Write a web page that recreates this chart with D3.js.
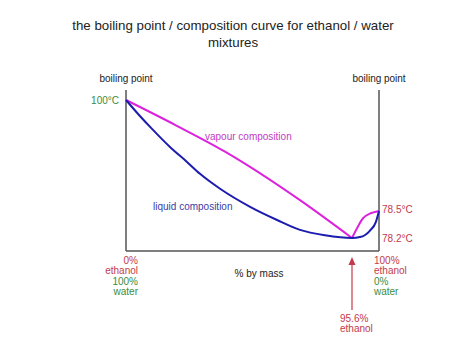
<!DOCTYPE html>
<html>
<head>
<meta charset="utf-8">
<script src="https://cdn.jsdelivr.net/npm/d3@7"></script>
<style>
  body { margin: 0; background: #fff; }
  svg { display: block; font-family: "Liberation Sans", Arial, sans-serif; }
</style>
</head>
<body>
<div id="chart"></div>
<script>
// % ethanol by mass and boiling point (°C) (schematic, not to scale)
const vapourPct  = [0, 20.7, 41.5, 73.6, 95.6, 96.6, 97.4, 98.5, 100];
const vapourTemp = [100, 95.2, 90.1, 80.6, 78.2, 78.33, 78.42, 78.47, 78.5];
const liquidPct  = [0, 5.5, 11.0, 18.6, 25.8, 31.3, 39.8, 52.5, 63.9, 73.6, 84.2, 95.6, 96.9, 98.5, 99.5, 100];
const liquidTemp = [100, 97.1, 94.4, 90.9, 88.0, 85.7, 82.8, 79.3, 78.4, 78.29, 78.23, 78.2, 78.21, 78.28, 78.38, 78.5];
const azeotropePct = 95.6;
const tempTicks = [100, 78.5, 78.2];
const tempLabels = ["100°C", "78.5°C", "78.2°C"];
const endPcts = [0, 100];
const endLabels = [["0%", "ethanol", "100%", "water"], ["100%", "ethanol", "0%", "water"]];

const width = 474, height = 355;
const frameTop = 90, frameBottom = 251;

const red = "#c43a4c", green = "#3c8c3c";

const svg = d3.select("#chart").append("svg")
  .attr("width", width)
  .attr("height", height);

// piecewise scales: the diagram stretches the region near the azeotrope
const x = d3.scaleLinear()
  .domain([0, azeotropePct, 100])
  .range([126, 352, 379]);

const y = d3.scaleLinear()
  .domain([78.2, 78.5, 100])
  .range([238, 211, 100]);

// title
svg.append("text")
  .attr("x", 233).attr("y", 30)
  .attr("text-anchor", "middle")
  .attr("font-size", 13.3).attr("fill", "#222")
  .text("the boiling point / composition curve for ethanol / water");
svg.append("text")
  .attr("x", 233).attr("y", 47)
  .attr("text-anchor", "middle")
  .attr("font-size", 13.3).attr("fill", "#222")
  .text("mixtures");

// frame
const axisColor = "#555";
svg.append("line")
  .attr("x1", x(0)).attr("x2", x(0)).attr("y1", frameTop).attr("y2", frameBottom)
  .attr("stroke", axisColor).attr("stroke-width", 1.5);
svg.append("line")
  .attr("x1", x(100)).attr("x2", x(100)).attr("y1", frameTop).attr("y2", frameBottom)
  .attr("stroke", axisColor).attr("stroke-width", 1.5);
svg.append("line")
  .attr("x1", x(0)).attr("x2", x(100)).attr("y1", frameBottom).attr("y2", frameBottom)
  .attr("stroke", axisColor).attr("stroke-width", 1.5);

// axis titles
svg.selectAll(".bp")
  .data(endPcts)
  .enter()
  .append("text")
  .attr("class", "bp")
  .attr("x", d => x(d))
  .attr("y", 82)
  .attr("text-anchor", "middle")
  .attr("font-size", 10).attr("fill", "#222")
  .attr("textLength", 53)
  .text("boiling point");

svg.append("text")
  .attr("x", 259).attr("y", 277)
  .attr("text-anchor", "middle")
  .attr("font-size", 10).attr("fill", "#222")
  .text("% by mass");

// temperature labels
svg.selectAll(".temp")
  .data(tempTicks)
  .enter()
  .append("text")
  .attr("class", "temp")
  .attr("x", d => d === 100 ? x(0) - 7 : x(100) + 3)
  .attr("y", (d, i) => y(d) + (i === 1 ? 2 : 4))
  .attr("text-anchor", d => d === 100 ? "end" : "start")
  .attr("font-size", 10)
  .attr("fill", d => d === 100 ? green : red)
  .text((d, i) => tempLabels[i]);

// composition labels at each end
endPcts.forEach((p, j) => {
  const t = svg.append("text")
    .attr("x", p === 0 ? x(p) + 12 : x(p) - 5)
    .attr("y", 264)
    .attr("text-anchor", p === 0 ? "end" : "start")
    .attr("font-size", 10);
  endLabels[j].forEach((s, k) => {
    t.append("tspan")
      .attr("x", p === 0 ? x(p) + 12 : x(p) - 5)
      .attr("dy", k === 0 ? 0 : 10.3)
      .attr("fill", k < 2 ? red : green)
      .text(s);
  });
});

// curves
const line = d3.line()
  .x(d => x(d[0]))
  .y(d => y(d[1]))
  .curve(d3.curveMonotoneX);

const vapour = vapourPct.map((p, i) => [p, vapourTemp[i]]);
const cusp = vapourPct.indexOf(azeotropePct);
const liquid = liquidPct.map((p, i) => [p, liquidTemp[i]]);

svg.append("path")
  .attr("d", line(vapour.slice(0, cusp + 1)))
  .attr("fill", "none").attr("stroke", "#dd22dd").attr("stroke-width", 2);
svg.append("path")
  .attr("d", line.curve(d3.curveCatmullRom)(vapour.slice(cusp)))
  .attr("fill", "none").attr("stroke", "#dd22dd").attr("stroke-width", 2);
svg.append("path")
  .attr("d", line.curve(d3.curveMonotoneX)(liquid))
  .attr("fill", "none").attr("stroke", "#1c1cb0").attr("stroke-width", 2);

// curve labels
svg.append("text")
  .attr("x", 205).attr("y", 140)
  .attr("font-size", 10).attr("fill", "#c23ac2")
  .text("vapour composition");
svg.append("text")
  .attr("x", 153).attr("y", 210)
  .attr("font-size", 10).attr("fill", "#3c3ca4")
  .text("liquid composition");

// azeotrope arrow
const ax = x(azeotropePct);
svg.append("line")
  .attr("x1", ax).attr("x2", ax).attr("y1", 262).attr("y2", 310)
  .attr("stroke", red).attr("stroke-width", 1.2);
svg.append("path")
  .attr("d", d3.line()([[ax, 257], [ax - 3.5, 265], [ax + 3.5, 265]]) + "Z")
  .attr("fill", red);

const az = svg.append("text")
  .attr("x", ax - 12).attr("y", 322)
  .attr("font-size", 10).attr("fill", red);
az.append("tspan").attr("x", ax - 12).attr("dy", 0).text(azeotropePct + "%");
az.append("tspan").attr("x", ax - 12).attr("dy", 10.3).text("ethanol");
</script>
</body>
</html>
